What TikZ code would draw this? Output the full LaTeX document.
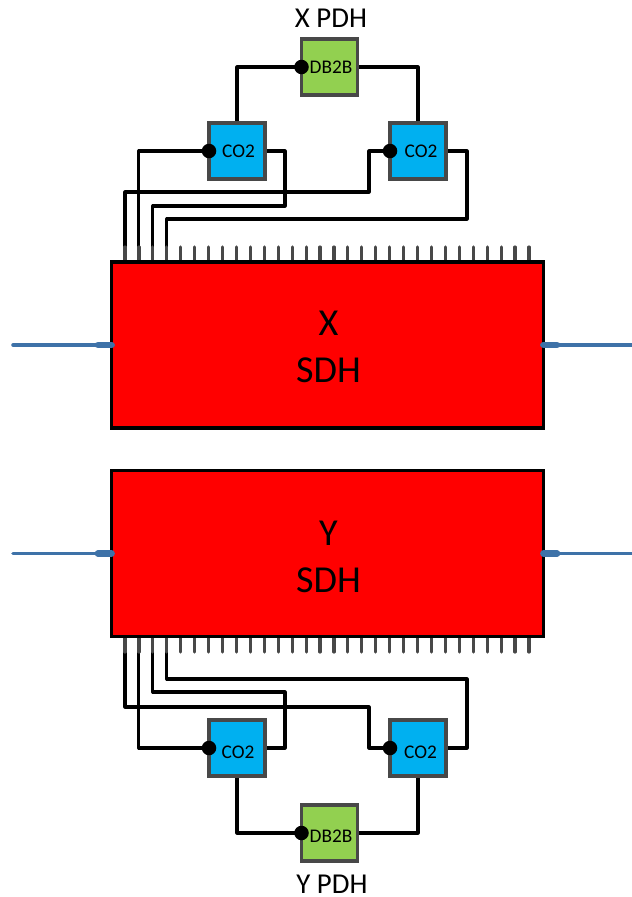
\documentclass[tikz,border=0pt]{standalone}
\usepackage{fontspec}
\setmainfont{Carlito}
\usetikzlibrary{backgrounds}
\definecolor{chipred}{HTML}{FF0000}
\definecolor{coblue}{HTML}{00B0F0}
\definecolor{dbgreen}{HTML}{92D050}
\definecolor{edgegray}{HTML}{484848}
\definecolor{portblue}{HTML}{3E72A8}
\tikzset{
    sdhbox/.style={draw=black, fill=chipred, line width=2pt, minimum width=8.64cm, minimum height=3.32cm, inner sep=0pt, outer sep=0pt},
    sdhlabel/.style={align=center, font=\fontsize{21.7}{26.6}\selectfont},
    smallbox/.style={draw=edgegray, line width=1.9pt, minimum size=1.12cm, inner sep=0pt, outer sep=0pt},
    cobox/.style={smallbox, fill=coblue},
    dbbox/.style={smallbox, fill=dbgreen},
    boxlabel/.style={inner sep=0pt, font=\fontsize{11}{12}\selectfont},
    wire/.style={line width=1.75pt, line join=round, line cap=round},
    pin/.style={draw=edgegray, line width=1.8pt, line cap=round},
    dot/.style={circle, fill=black, minimum size=0.29cm, inner sep=0pt},
    pdhlabel/.style={inner sep=0pt, font=\fontsize{16.4}{18}\selectfont},
    portthin/.style={draw=portblue, line width=2pt, line cap=round},
    portthick/.style={draw=portblue, line width=3.8pt, line cap=round}
}
\begin{document}
\begin{tikzpicture}[x=0.02cm, y=-0.02cm]

    % Fix the page size
    \useasboundingbox (0,0) rectangle (632,897);

    % Define the two large chips
    \node[sdhbox] (sdhx) at (327.5,345) {};
    \node[sdhbox] (sdhy) at (327.5,553.5) {};

    % Define the small boxes of the top group
    \node[dbbox] (dbx) at (329.5,67) {};
    \node[cobox] (colx) at (237,151) {};
    \node[cobox] (corx) at (418,151) {};

    % Define the small boxes of the bottom group
    \node[dbbox] (dby) at (329.5,833) {};
    \node[cobox] (coly) at (237,748) {};
    \node[cobox] (cory) at (418,748) {};

    % Define the pin ends
    \foreach \i in {1,...,30} {
        \coordinate (pinx\i) at ({125+13.93*(\i-1)},247);
        \coordinate (piny\i) at ({125+13.93*(\i-1)},652);
    }

    \begin{scope}[on background layer]
        % Draw the wires of the top group
        \draw[wire] (dbx.west) -| (colx.north);
        \draw[wire] (dbx.east) -| (corx.north);
        \draw[wire] (pinx2) |- (colx.west);
        \draw[wire] (pinx1) |- (369,192) |- (corx.west);
        \draw[wire] (pinx3) |- (285,206) |- (colx.east);
        \draw[wire] (pinx4) |- (467,219) |- (corx.east);

        % Draw the wires of the bottom group
        \draw[wire] (dby.west) -| (coly.south);
        \draw[wire] (dby.east) -| (cory.south);
        \draw[wire] (piny2) |- (coly.west);
        \draw[wire] (piny1) |- (369,707) |- (cory.west);
        \draw[wire] (piny3) |- (285,692) |- (coly.east);
        \draw[wire] (piny4) |- (467,679) |- (cory.east);

        % Draw the pins
        \foreach \i in {1,...,30} {
            \draw[pin] (pinx\i) -- (pinx\i |- sdhx.north);
            \draw[pin] (piny\i) -- (piny\i |- sdhy.south);
        }
    \end{scope}

    % Add the dots on the input sides
    \node[dot] (dotdbx) at (dbx.west) {};
    \node[dot] (dotcolx) at (colx.west) {};
    \node[dot] (dotcorx) at (corx.west) {};
    \node[dot] (dotdby) at (dby.west) {};
    \node[dot] (dotcoly) at (coly.west) {};
    \node[dot] (dotcory) at (cory.west) {};

    % Add labels for the chips
    \node[sdhlabel] (labelx) at (328.5,347) {X\\SDH};
    \node[sdhlabel] (labely) at (328.5,557) {Y\\SDH};

    % Add labels for the small boxes
    \node[boxlabel] (labeldbx) at (331,67.5) {DB2B};
    \node[boxlabel] (labelcolx) at (238.5,151.5) {CO2};
    \node[boxlabel] (labelcorx) at (421,151.5) {CO2};
    \node[boxlabel] (labeldby) at (331,836) {DB2B};
    \node[boxlabel] (labelcoly) at (238,752.5) {CO2};
    \node[boxlabel] (labelcory) at (420.5,752.5) {CO2};

    \node[pdhlabel] (pdhx) at (331,18) {X PDH};
    \node[pdhlabel] (pdhy) at (332,884) {Y PDH};

    % Define the free port ends
    \coordinate (inx) at (13,345);
    \coordinate (iny) at (13,553.5);
    \coordinate (outx) at (632,345);
    \coordinate (outy) at (632,553.5);
    \coordinate (stubinx) at (98,345);
    \coordinate (stubiny) at (98,553.5);
    \coordinate (stuboutx) at (557,345);
    \coordinate (stubouty) at (557,553.5);

    % Draw the ports
    \draw[portthin] (inx) -- (sdhx.west);
    \draw[portthin] (iny) -- (sdhy.west);
    \draw[portthin] (outx) -- (sdhx.east);
    \draw[portthin] (outy) -- (sdhy.east);
    \draw[portthick] (stubinx) -- (sdhx.west);
    \draw[portthick] (stubiny) -- (sdhy.west);
    \draw[portthick] (stuboutx) -- (sdhx.east);
    \draw[portthick] (stubouty) -- (sdhy.east);

\end{tikzpicture}
\end{document}
